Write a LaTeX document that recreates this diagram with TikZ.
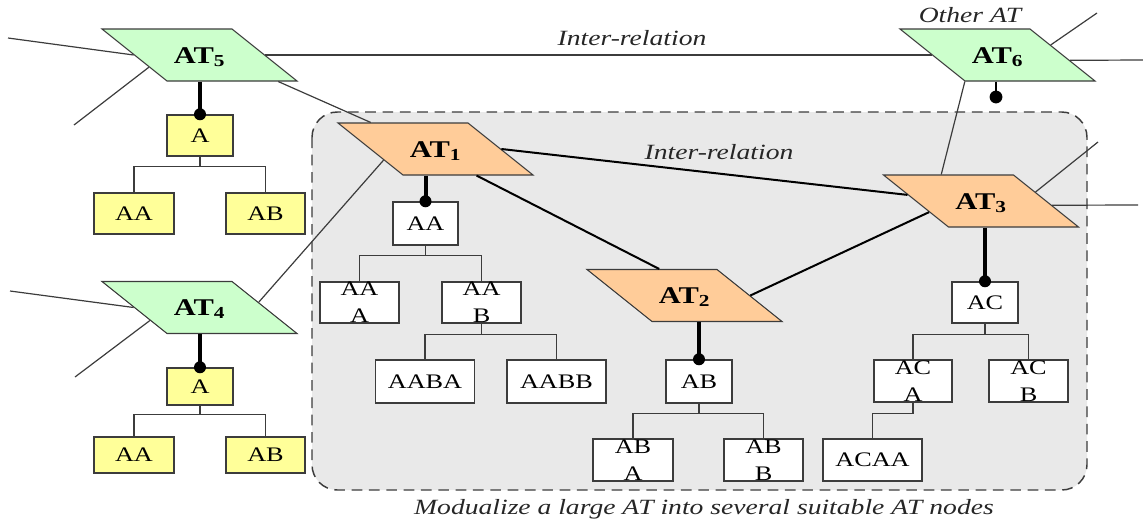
\documentclass[tikz,border=0pt]{standalone}
\usepackage{fontspec}
\setmainfont{Liberation Serif}[FakeStretch=1.27]
\usetikzlibrary{shapes.geometric,calc}

\definecolor{atgreen}{HTML}{CCFFCC}
\definecolor{atorange}{HTML}{FFCC99}
\definecolor{boxyellow}{HTML}{FFFF99}
\definecolor{panelgray}{HTML}{E9E9E9}
\definecolor{edgegray}{HTML}{3C3C3C}

\begin{document}
\begin{tikzpicture}[x=0.75pt,y=-0.75pt,
  atnode/.style={trapezium, trapezium left angle=141.34, trapezium right angle=38.66,
    draw=edgegray, line width=0.8pt, inner sep=0pt, minimum width=0pt, minimum height=0pt,
    text width=48.75pt, align=center, text height=25.5pt, text depth=13.5pt,
    font=\fontsize{18}{20}\selectfont\bfseries},
  greenat/.style={atnode, fill=atgreen},
  orangeat/.style={atnode, fill=atorange},
  leafbox/.style={draw=edgegray, line width=1.1pt, fill=white, inner sep=0pt,
    align=center, font=\fontsize{15.5}{20}\selectfont},
  ybox/.style={leafbox, fill=boxyellow},
  thinedge/.style={draw=edgegray, line width=0.9pt},
  reledge/.style={draw=black, line width=1.5pt},
  treeedge/.style={draw=edgegray, line width=1.1pt},
  lollipop/.style={draw=black, line width=3pt},
  itext/.style={inner sep=0pt, text=black!85, font=\fontsize{16.3}{18}\selectfont\itshape},
  panel/.style={draw=edgegray, fill=panelgray, line width=1.1pt,
    dash pattern=on 8pt off 5pt, rounded corners=19pt}
]
\useasboundingbox (0,0) rectangle (1143,522);

% grouping panel of the modularised tree
\path[panel] (312,112) rectangle (1087,490);

% AT nodes
\node[greenat]  (at5) at (199.5,55)  {AT\textsubscript{5}};
\node[greenat]  (at4) at (199.5,307.5) {AT\textsubscript{4}};
\node[greenat]  (at6) at (997.5,55)  {AT\textsubscript{6}};
\node[orangeat] (at1) at (435.5,149) {AT\textsubscript{1}};
\node[orangeat] (at2) at (684.5,295.5) {AT\textsubscript{2}};
\node[orangeat] (at3) at (981,201)   {AT\textsubscript{3}};

% tree of AT5
\node[ybox, minimum width=49.5pt, minimum height=30.75pt] (a5)  at (200,135.5) {A};
\node[ybox, minimum width=60pt,   minimum height=30.75pt] (aa5) at (134,213.5) {AA};
\node[ybox, minimum width=59.25pt,minimum height=30.75pt] (ab5) at (265.5,213.5) {AB};

% tree of AT4
\node[ybox, minimum width=49.5pt, minimum height=27.75pt] (a4)  at (200,386.5) {A};
\node[ybox, minimum width=60pt,   minimum height=27pt]    (aa4) at (134,455) {AA};
\node[ybox, minimum width=59.25pt,minimum height=27pt]    (ab4) at (265.5,455) {AB};

% tree of AT1
\node[leafbox, minimum width=48.75pt, minimum height=32.25pt] (aa1)  at (425.5,223.5) {AA};
\node[leafbox, minimum width=59.25pt, minimum height=30.75pt] (aaa)  at (359.5,302.5) {AA\\A};
\node[leafbox, minimum width=59.25pt, minimum height=30.75pt] (aab)  at (481.5,302.5) {AA\\B};
\node[leafbox, minimum width=74.25pt, minimum height=32.25pt] (aaba) at (425,381.5) {AABA};
\node[leafbox, minimum width=74.25pt, minimum height=32.25pt] (aabb) at (556.5,381.5) {AABB};

% tree of AT2
\node[leafbox, minimum width=49.5pt, minimum height=32.25pt] (ab2) at (699,381.5) {AB};
\node[leafbox, minimum width=60pt,   minimum height=31.5pt]  (aba) at (633,460) {AB\\A};
\node[leafbox, minimum width=59.25pt,minimum height=31.5pt]  (abb) at (763.5,460) {AB\\B};

% tree of AT3
\node[leafbox, minimum width=49.5pt,  minimum height=30.75pt] (ac3)  at (985,302.5) {AC};
\node[leafbox, minimum width=58.5pt,  minimum height=31.5pt]  (aca)  at (913,381) {AC\\A};
\node[leafbox, minimum width=59.25pt, minimum height=31.5pt]  (acb)  at (1028.5,381) {AC\\B};
\node[leafbox, minimum width=74.25pt, minimum height=31.5pt]  (acaa) at (872.5,460) {ACAA};

% texts
\node[itext] (rel1) at (632,38) {Inter-relation};
\node[itext] (rel2) at (719,152) {Inter-relation};
\node[itext] (other) at (970,15) {Other AT};
\node[itext] (caption) at (704,509) {Modualize a large AT into several suitable AT nodes};

% loose ends of relations leaving the picture
\coordinate (e5a) at (8,38);
\coordinate (e5b) at (74,125);
\coordinate (e4a) at (10,291);
\coordinate (e4b) at (75,377);
\coordinate (e6u) at (1097,13);
\coordinate (e6r) at (1143,60);
\coordinate (e3u) at (1098,142);
\coordinate (e3r) at (1138,205);
\coordinate (e6dot) at (996,97);

% relations between ATs
\draw[thinedge] (e5a) -- (at5.left side);
\draw[thinedge] (e5b) -- ($(at5.top left corner)!0.73!(at5.bottom left corner)$);
\draw[thinedge] (at5) -- (at6);
\draw[thinedge] ($(at5.bottom left corner)!0.846!(at5.bottom right corner)$) --
                ($(at1.top left corner)!0.26!(at1.top right corner)$);
\draw[thinedge] (e4a) -- (at4.left side);
\draw[thinedge] (e4b) -- ($(at4.top left corner)!0.745!(at4.bottom left corner)$);
\draw[thinedge] ($(at4.top right corner)!0.4!(at4.bottom right corner)$) --
                ($(at1.top left corner)!0.71!(at1.bottom left corner)$);
\draw[reledge] (at1.right side) -- ($(at3.top left corner)!0.385!(at3.bottom left corner)$);
\draw[reledge] ($(at1.bottom left corner)!0.56!(at1.bottom right corner)$) --
               ($(at2.top left corner)!0.56!(at2.top right corner)$);
\draw[reledge] (at2.right side) -- ($(at3.top left corner)!0.71!(at3.bottom left corner)$);
\draw[thinedge] (at6.bottom left corner) -- ($(at3.top left corner)!0.45!(at3.top right corner)$);
\draw[thinedge] ($(at6.top right corner)!0.31!(at6.bottom right corner)$) -- (e6u);
\draw[thinedge] ($(at6.top right corner)!0.6!(at6.bottom right corner)$) -- (e6r);
\draw[thinedge] ($(at3.top right corner)!0.33!(at3.bottom right corner)$) -- (e3u);
\draw[thinedge] ($(at3.top right corner)!0.58!(at3.bottom right corner)$) -- (e3r);

% tree branches
\foreach \p/\c/\d in {a5/aa5/10, a5/ab5/10, a4/aa4/9, a4/ab4/9,
                      aa1/aaa/10, aa1/aab/10, aab/aaba/11, aab/aabb/11,
                      ab2/aba/10, ab2/abb/10, ac3/aca/11, ac3/acb/11, aca/acaa/11}
  \draw[treeedge] (\p.south) -- ++(0,\d) -| (\c.north);

% roots attached to their AT nodes
\foreach \r/\a in {a5/at5, a4/at4, aa1/at1, ab2/at2, ac3/at3} {
  \draw[lollipop] (\r.north |- \a.south) -- (\r.north);
  \fill (\r.north) circle (4.5pt);
}
\draw[draw=black, line width=2.2pt] (e6dot |- at6.south) -- (e6dot);
\fill (e6dot) circle (4.8pt);
\end{tikzpicture}
\end{document}
